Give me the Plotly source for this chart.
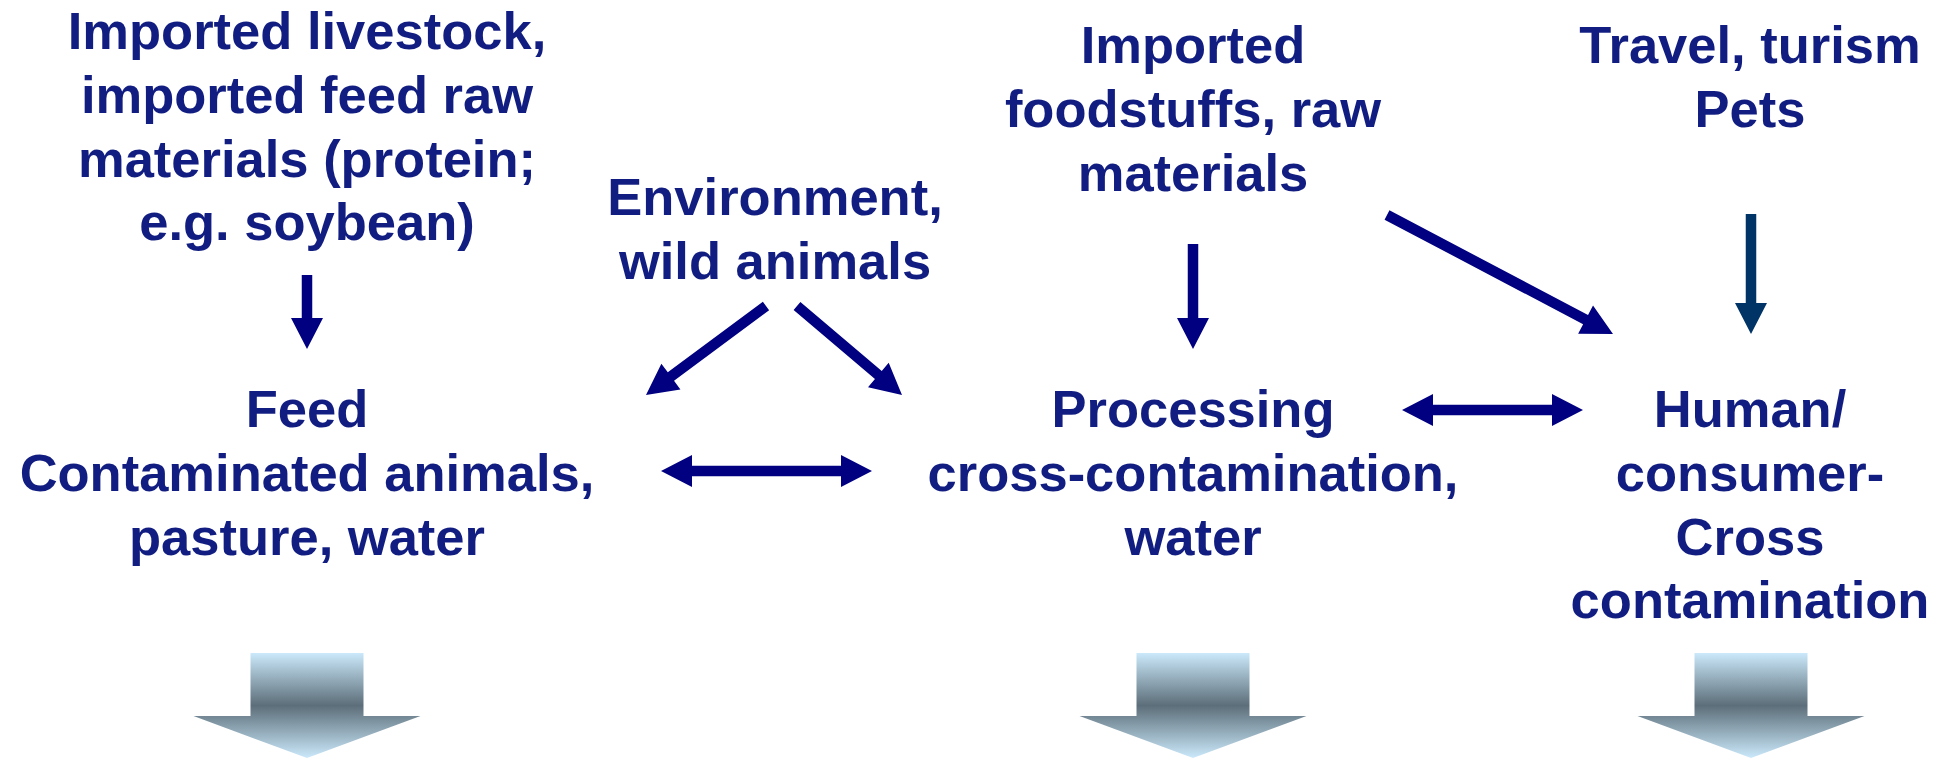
import numpy as np
import plotly.graph_objects as go

# ---------------- text content ----------------
src_livestock = ["Imported livestock,", "imported feed raw", "materials (protein;", "e.g. soybean)"]
src_environment = ["Environment,", "wild animals"]
src_foodstuffs = ["Imported", "foodstuffs, raw", "materials"]
src_travel = ["Travel, turism", "Pets"]
stage_feed = ["Feed", "Contaminated animals,", "pasture, water"]
stage_processing = ["Processing", "cross-contamination,", "water"]
stage_human = ["Human/", "consumer-", "Cross", "contamination"]

# ---------------- layout (pixel space) ----------------
W, H = 1950, 760
FONT_SIZE = 52.5
LINE_STEP = 63.8
TEXT_COLOR = "#111D80"
ARROW_COLOR = "#000080"
TRAVEL_COLOR = "#003366"

# (lines, center x, first baseline y)
blocks = [
    (src_livestock, 307, 49),
    (src_environment, 775, 215),
    (src_foodstuffs, 1193, 63),
    (src_travel, 1750, 63),
    (stage_feed, 307, 427),
    (stage_processing, 1193, 427),
    (stage_human, 1750, 427),
]

# arrows: tail x, tail y, tip x, tip y, double-headed, color
arrows = [
    (307, 275, 307, 349, False, ARROW_COLOR),
    (1193, 244, 1193, 349, False, ARROW_COLOR),
    (1751, 214, 1751, 334, False, TRAVEL_COLOR),
    (766, 306, 646, 395, False, ARROW_COLOR),
    (797, 306, 902, 395, False, ARROW_COLOR),
    (661, 471, 872, 471, True, ARROW_COLOR),
    (1402, 410, 1583, 410, True, ARROW_COLOR),
    (1387, 215, 1613, 334, False, ARROW_COLOR),
]
SHAFT_W = 10.5
HEAD_W = 32
HEAD_L = 31

# bottom gradient arrows: column centres
flow_columns = [307, 1193, 1751]
FLOW_TOP, FLOW_NECK, FLOW_TIP = 653, 716, 758
FLOW_BODY_HALF, FLOW_HEAD_HALF = 56.5, 113.5


def arrow_polygon(x0, y0, x1, y1, double):
    p0 = np.array([x0, y0], float)
    p1 = np.array([x1, y1], float)
    u = (p1 - p0) / np.linalg.norm(p1 - p0)
    n = np.array([-u[1], u[0]])
    sw, hw = SHAFT_W / 2, HEAD_W / 2
    b1 = p1 - u * HEAD_L
    if double:
        b0 = p0 + u * HEAD_L
        pts = [p0, b0 + n * hw, b0 + n * sw, b1 + n * sw, b1 + n * hw, p1,
               b1 - n * hw, b1 - n * sw, b0 - n * sw, b0 - n * hw, p0]
    else:
        pts = [p0 + n * sw, b1 + n * sw, b1 + n * hw, p1,
               b1 - n * hw, b1 - n * sw, p0 - n * sw, p0 + n * sw]
    pts = np.array(pts)
    return pts[:, 0], pts[:, 1]


fig = go.Figure()

# text lines (plotly puts the baseline 0.25 em below a 'middle' text point)
for lines, cx, base in blocks:
    ys = [base + i * LINE_STEP - 0.25 * FONT_SIZE for i in range(len(lines))]
    fig.add_trace(go.Scatter(
        x=[cx] * len(lines), y=ys, text=lines, mode="text",
        textposition="middle center", cliponaxis=False,
        textfont=dict(family="Liberation Sans, Arial, sans-serif", size=FONT_SIZE,
                      color=TEXT_COLOR, weight="bold"),
        hoverinfo="skip", showlegend=False))

# arrows
for x0, y0, x1, y1, dbl, col in arrows:
    xs, ys = arrow_polygon(x0, y0, x1, y1, dbl)
    fig.add_trace(go.Scatter(x=xs, y=ys, mode="lines", fill="toself",
                             fillcolor=col, line=dict(width=0, color=col),
                             hoverinfo="skip", showlegend=False))

# bottom gradient block arrows
light, dark = "#CBE9FB", "#5C6E79"
for cx in flow_columns:
    xs = [cx - FLOW_BODY_HALF, cx + FLOW_BODY_HALF, cx + FLOW_BODY_HALF, cx + FLOW_HEAD_HALF,
          cx, cx - FLOW_HEAD_HALF, cx - FLOW_BODY_HALF, cx - FLOW_BODY_HALF]
    ys = [FLOW_TOP, FLOW_TOP, FLOW_NECK, FLOW_NECK, FLOW_TIP, FLOW_NECK, FLOW_NECK, FLOW_TOP]
    fig.add_trace(go.Scatter(
        x=xs, y=ys, mode="lines", fill="toself",
        fillgradient=dict(type="vertical",
                          colorscale=[[0, light], [0.5, dark], [1, light]],
                          start=FLOW_TOP, stop=FLOW_TIP),
        line=dict(width=0, color="rgba(0,0,0,0)"),
        hoverinfo="skip", showlegend=False))

fig.update_layout(
    width=W, height=H,
    margin=dict(l=0, r=0, t=0, b=0),
    paper_bgcolor="white", plot_bgcolor="white",
    xaxis=dict(range=[0, W], visible=False, fixedrange=True),
    yaxis=dict(range=[H, 0], visible=False, fixedrange=True),
)

fig.write_html(
    "out.html",
    config={"displayModeBar": False},
    post_script="document.body.style.margin='0';document.body.style.overflow='hidden';",
)
